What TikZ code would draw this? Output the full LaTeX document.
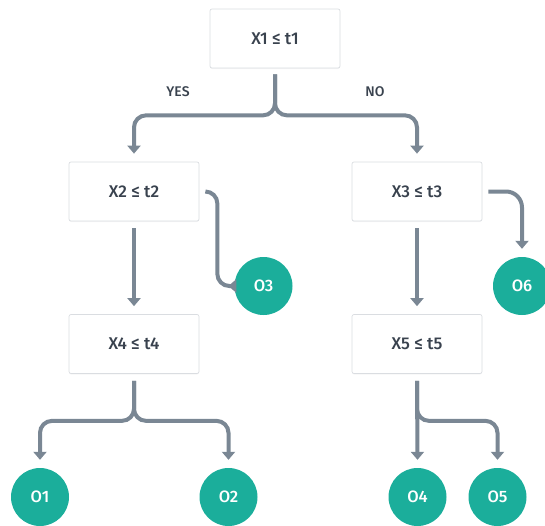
\documentclass[tikz,border=0pt]{standalone}
\usepackage{fontspec}
\setmainfont{Fira Sans}[BoldFont={Fira Sans Medium}]
\usetikzlibrary{arrows.meta,shadows}
\definecolor{linec}{HTML}{7A8794}
\definecolor{teal}{HTML}{1BAE9B}
\definecolor{txt}{HTML}{39424E}
\definecolor{boxb}{HTML}{DADDE1}
\tikzset{
  testbox/.style={draw=boxb,line width=0.7pt,fill=white,rounded corners=2pt,
    minimum width=130pt,minimum height=59pt,inner sep=0pt,text=txt,
    font=\bfseries\fontsize{17}{20}\selectfont,
    drop shadow={opacity=0.08,shadow xshift=0pt,shadow yshift=-1pt}},
  leaf/.style={circle,fill=teal,minimum size=58pt,inner sep=0pt,text=white,
    font=\bfseries\fontsize{16.5}{19}\selectfont},
  conn/.style={draw=linec,line width=4pt,rounded corners=12pt,
    -{Triangle[width=13pt,length=8pt]}},
  lbl/.style={text=txt,font=\bfseries\fontsize{14}{16}\selectfont}
}
\begin{document}
\begin{tikzpicture}[x=1pt,y=-1pt]
\useasboundingbox (0,0) rectangle (545,525);
\node[testbox] (x1) at (275,38.5) {X1 ≤ t1};
\node[testbox] (x2) at (134,191.5) {X2 ≤ t2};
\node[testbox] (x3) at (417,191.5) {X3 ≤ t3};
\node[testbox] (x4) at (134,344) {X4 ≤ t4};
\node[testbox] (x5) at (417,344) {X5 ≤ t5};
\node[leaf] (o3) at (263.5,286) {O3};
\node[leaf] (o6) at (522,286) {O6};
\node[leaf] (o1) at (40,497) {O1};
\node[leaf] (o2) at (228.5,497) {O2};
\node[leaf] (o4) at (417.5,497) {O4};
\node[leaf] (o5) at (497.5,497) {O5};
\node[lbl] (yes) at (178,92) {YES};
\node[lbl] (no) at (375,92) {NO};
% X1 split
\coordinate (x1s) at ([yshift=-6pt]x1.south);
\draw[conn] (x1s) -- ([yshift=-41pt]x1s) -| ([yshift=8pt]x2.north);
\draw[conn] (x1s) -- ([yshift=-41pt]x1s) -| ([yshift=8pt]x3.north);
% X2
\draw[conn] ([xshift=6pt]x2.east) -- ++(12,0) |- ([xshift=-6pt]o3.west);
\draw[conn] ([yshift=-7pt]x2.south) -- ([yshift=8pt]x4.north);
% X3
\draw[conn,rounded corners=16pt] ([xshift=6pt]x3.east) -| ([yshift=8pt]o6.north);
\draw[conn] ([yshift=-7pt]x3.south) -- ([yshift=8pt]x5.north);
% X4 split
\coordinate (x4s) at ([yshift=-7pt]x4.south);
\draw[conn] (x4s) -- ([yshift=-40pt]x4s) -| ([yshift=8pt]o1.north);
\draw[conn] (x4s) -- ([yshift=-40pt]x4s) -| ([yshift=8pt]o2.north);
% X5 split
\coordinate (x5s) at ([yshift=-7pt]x5.south);
\draw[conn] (x5s) -- ([yshift=8pt]o4.north);
\draw[conn] (x5s) -- ([yshift=-40pt]x5s) -| ([yshift=8pt]o5.north);
\end{tikzpicture}
\end{document}
